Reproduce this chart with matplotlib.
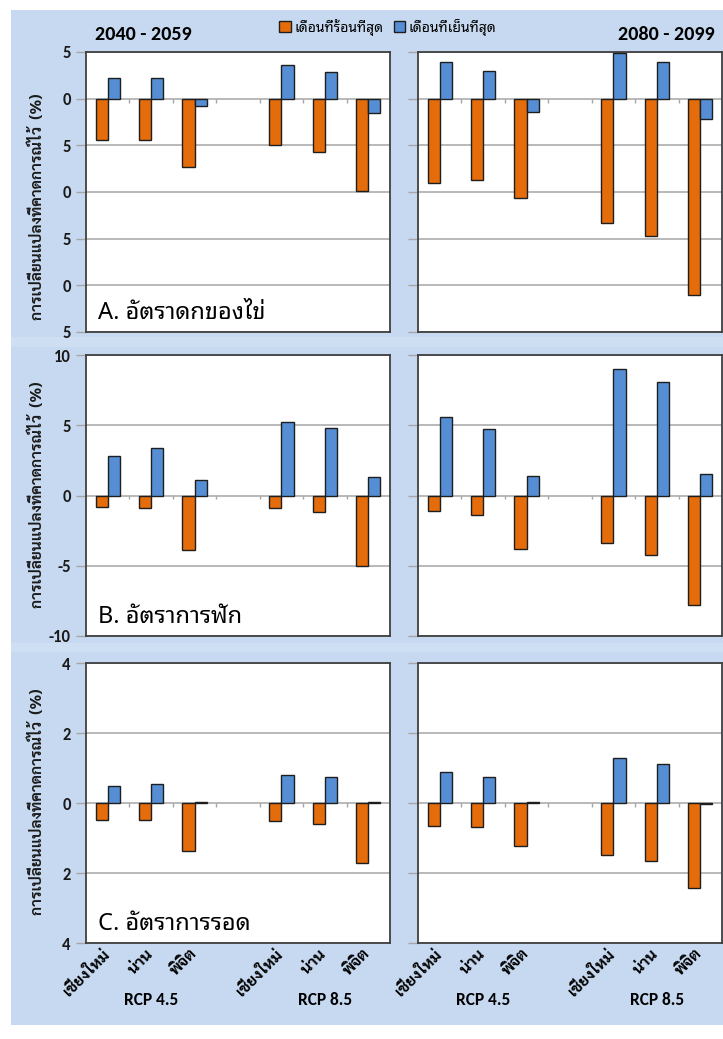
import matplotlib
matplotlib.use('Agg')
import numpy as np
import matplotlib.pyplot as plt
from matplotlib import font_manager
from matplotlib.patches import Rectangle, Patch
from matplotlib.transforms import blended_transform_factory


def pick(cands, default='DejaVu Sans'):
    have = set(f.name for f in font_manager.fontManager.ttflist)
    for c in cands:
        if c in have:
            return c
    return default


THAI = pick(['Noto Sans Thai Looped', 'Sarabun', 'Noto Sans Thai',
             'IBM Plex Sans Thai Looped', 'Bai Jamjuree'])
THAI_B = pick(['Sarabun', 'IBM Plex Sans Thai Looped', 'Noto Sans Thai', 'Bai Jamjuree'])
NUM = pick(['Carlito', 'Open Sans', 'Noto Sans'])
TFAM = [THAI, 'DejaVu Sans']
TFAM_B = [THAI_B, 'DejaVu Sans']

#
# DATA
#
sites = ['เชียงใหม่', 'น่าน', 'พิจิต', '', 'เชียงใหม่', 'น่าน', 'พิจิต']
bar_slots = [0, 1, 2, 4, 5, 6]
scenarios = ['RCP 4.5', 'RCP 8.5']
scenario_centres = [1, 5]
periods = ['2040 - 2059', '2080 - 2099']
series = ['เดือนที่ร้อนที่สุด', 'เดือนที่เย็นที่สุด']
panel_titles = ['A. อัตราดกของไข่', 'B. อัตราการฟัก', 'C. อัตราการรอด']
ylabel = 'การเปลี่ยนแปลงที่คาดการณ์ไว้  (%)'

# egg laying rate
hot_egg_2040 = [-4.4, -4.4, -7.3, -5.0, -5.7, -9.9]
cold_egg_2040 = [2.2, 2.2, -0.8, 3.6, 2.9, -1.5]
hot_egg_2080 = [-9.0, -8.7, -10.6, -13.3, -14.7, -21.0]
cold_egg_2080 = [3.9, 3.0, -1.4, 4.9, 3.9, -2.2]
# hatching rate
hot_hatch_2040 = [-0.8, -0.9, -3.9, -0.9, -1.2, -5.0]
cold_hatch_2040 = [2.8, 3.4, 1.1, 5.2, 4.8, 1.3]
hot_hatch_2080 = [-1.1, -1.4, -3.8, -3.4, -4.2, -7.8]
cold_hatch_2080 = [5.6, 4.7, 1.4, 9.0, 8.1, 1.5]
# survival rate
hot_surv_2040 = [-0.48, -0.48, -1.37, -0.5, -0.6, -1.72]
cold_surv_2040 = [0.48, 0.53, 0.03, 0.8, 0.75, 0.02]
hot_surv_2080 = [-0.65, -0.69, -1.22, -1.48, -1.65, -2.43]
cold_surv_2080 = [0.88, 0.73, 0.03, 1.29, 1.12, -0.03]

row_ticks = [[5, 0, -5, -10, -15, -20, -25], [10, 5, 0, -5, -10], [4, 2, 0, -2, -4]]
# tick labels as they appear (leading characters are clipped in the source)
row_ticklabels = [['5', '0', '5', '0', '5', '0', '5'],
                  ['10', '5', '0', '-5', '-10'],
                  ['4', '2', '0', '2', '4']]

panels = [[(hot_egg_2040, cold_egg_2040), (hot_egg_2080, cold_egg_2080)],
          [(hot_hatch_2040, cold_hatch_2040), (hot_hatch_2080, cold_hatch_2080)],
          [(hot_surv_2040, cold_surv_2040), (hot_surv_2080, cold_surv_2080)]]

#
# STYLE
#
W, H = 723, 1039
BG = '#c6d9f0'
ORANGE = '#e46c0a'
BLUE = '#558ed5'
EDGE = '#1e1e1e'
GRID = '#a6a6a6'
SPINE = '#404040'
col_x = [86, 418]
col_w = 304
row_y = [(52, 332), (355, 636), (663, 943)]
ylabel_y = [207, 495, 802]

fig = plt.figure(figsize=(W / 100, H / 100), dpi=100)
fig.patches.append(Rectangle((11 / W, 1 - 1025 / H), 1 - 11 / W, (1025 - 10) / H,
                             transform=fig.transFigure, facecolor=BG,
                             edgecolor='none', zorder=-2))
for y0, y1 in [(337, 347), (643, 652)]:
    fig.patches.append(Rectangle((11 / W, 1 - y1 / H), 1 - 11 / W, (y1 - y0) / H,
                                 transform=fig.transFigure, facecolor='#cfdff3',
                                 edgecolor='none', zorder=-1))

pos = np.array(bar_slots)
bw = 0.28
for r in range(3):
    top, bot = row_y[r]
    for c in range(2):
        ax = fig.add_axes([col_x[c] / W, 1 - bot / H, col_w / W, (bot - top) / H])
        ax.set_facecolor('white')
        hot, cold = panels[r][c]
        ax.bar(pos - bw / 2, hot, bw, color=ORANGE, edgecolor=EDGE, lw=1, zorder=3)
        ax.bar(pos + bw / 2, cold, bw, color=BLUE, edgecolor=EDGE, lw=1, zorder=3)
        ticks = row_ticks[r]
        ax.set_ylim(ticks[-1], ticks[0])
        ax.set_xlim(-0.5, 6.5)
        ax.set_yticks(ticks)
        ax.yaxis.grid(True, color=GRID, lw=1.1, zorder=0)
        ax.set_axisbelow(True)
        span = ticks[0] - ticks[-1]
        # category tick marks on the zero line
        ax.vlines(np.arange(0.5, 6.0, 1.0), 0, -span * 0.014, color=GRID, lw=1, zorder=2)
        for s in ax.spines.values():
            s.set_color(SPINE)
            s.set_linewidth(1.3)
        ax.tick_params(axis='y', length=7, width=1, color=GRID, pad=4)
        if c == 0:
            ax.set_yticklabels(row_ticklabels[r], fontsize=12, fontweight='bold',
                               family=NUM, color='#1a1a1a')
            ax.text(0.04, 0.045, panel_titles[r], transform=ax.transAxes,
                    fontsize=17, family=TFAM, va='baseline', ha='left')
        else:
            ax.set_yticklabels([])
        if r == 2:
            ax.set_xticks(range(7))
            ax.set_xticklabels(sites, rotation=45, ha='right', va='center',
                               rotation_mode='anchor', fontsize=11.5,
                               fontweight='bold', family=TFAM_B)
            ax.tick_params(axis='x', length=0, pad=6)
            tr = blended_transform_factory(ax.transData, ax.transAxes)
            for sc, xc in zip(scenarios, scenario_centres):
                ax.text(xc, -0.205, sc, transform=tr, ha='center', va='center',
                        fontsize=12.5, fontweight='bold', family=NUM)
        else:
            ax.set_xticks([])
    fig.text(37 / W, 1 - ylabel_y[r] / H, ylabel, rotation=90, ha='center',
             va='center', fontsize=11, fontweight='bold', family=TFAM_B, color='#1a1a1a')

fig.text(95 / W, 1 - 35 / H, periods[0], fontsize=14.5, fontweight='bold',
         family=NUM, va='center', ha='left')
fig.text(715 / W, 1 - 35 / H, periods[1], fontsize=14.5, fontweight='bold',
         family=NUM, va='center', ha='right')

handles = [Patch(facecolor=ORANGE, edgecolor=EDGE, label=series[0]),
           Patch(facecolor=BLUE, edgecolor=EDGE, label=series[1])]
fig.legend(handles=handles, loc='center', bbox_to_anchor=(388 / W, 1 - 27 / H),
           ncol=2, frameon=False, handlelength=0.85, handleheight=0.85,
           handletextpad=0.25, columnspacing=0.7, prop={'family': TFAM, 'size': 10})

fig.savefig('out.png', dpi=100)
